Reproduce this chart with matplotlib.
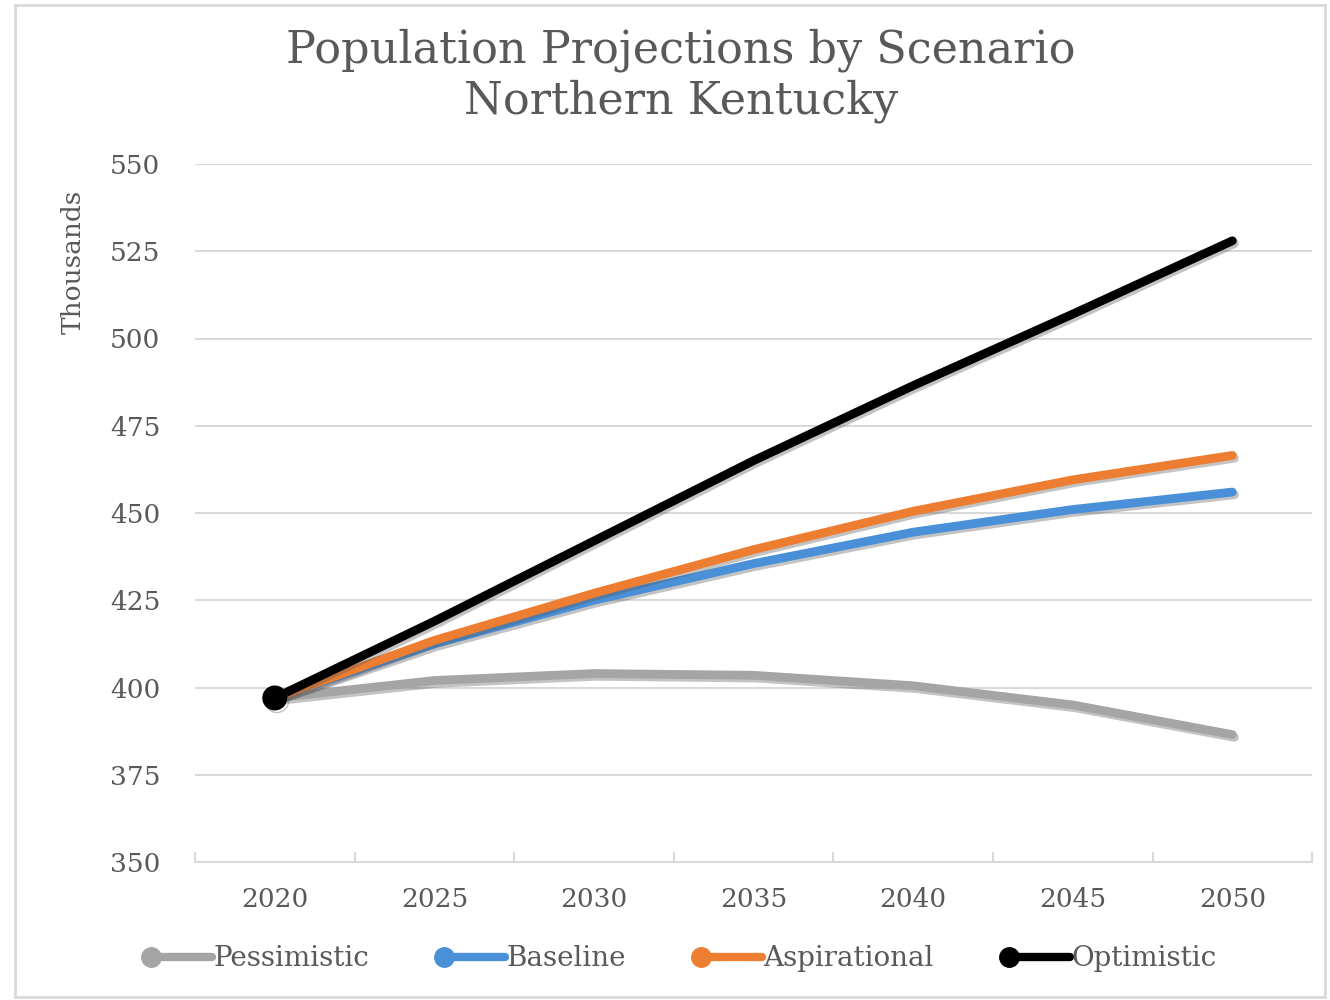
import numpy as np
import matplotlib
matplotlib.use('Agg')
from matplotlib import pyplot as plt
from matplotlib.lines import Line2D
from matplotlib.patches import Rectangle
from matplotlib.legend_handler import HandlerBase
import matplotlib.patheffects as pe

years = ['2020', '2025', '2030', '2035', '2040', '2045', '2050']
pessimistic = [397, 402, 404, 403.5, 400.5, 395, 386.5]
baseline = [397, 412.5, 425, 435.5, 444.5, 451, 456]
aspirational = [397, 413.5, 427, 439.5, 450.5, 459.5, 466.5]
optimistic = [397, 419, 442, 465, 486.5, 507, 528]

series = [('Pessimistic', pessimistic, '#a5a5a5'),
          ('Baseline', baseline, '#4a90d9'),
          ('Aspirational', aspirational, '#ed7d31'),
          ('Optimistic', optimistic, '#000000')]

txt = '#595959'
grid = '#d9d9d9'
plt.rcParams['font.family'] = ['DejaVu Serif']


# legend key: thick line with a dot on its left end (Excel style)
class HandlerDotLine(HandlerBase):
    def create_artists(self, legend, orig, xd, yd, width, height, fontsize, trans):
        y = height / 2 - yd
        col = orig.get_color()
        line = Line2D([-xd + 4, -xd + width], [y, y], color=col, lw=6,
                      solid_capstyle='round', transform=trans)
        dot = Line2D([-xd + 4], [y], color=col, marker='o', markersize=14,
                     linestyle='none', transform=trans)
        return [line, dot]


fig = plt.figure(figsize=(13.3, 10), dpi=100)
fig.patches.append(Rectangle((0.011, 0.003), 0.985, 0.992, transform=fig.transFigure,
                             fill=False, edgecolor=grid, linewidth=2))
ax = fig.add_axes([0.1466, 0.138, 0.8400, 0.698])

x = np.arange(len(years))
shadow = [pe.SimpleLineShadow(offset=(1.5, -2), shadow_color='#555555', alpha=0.35), pe.Normal()]
handles = []
for name, vals, col in series:
    ax.plot(x, vals, color=col, lw=6.3, solid_capstyle='round', path_effects=shadow, zorder=3)
    handles.append(Line2D([], [], color=col, label=name))

# start point marker
ax.plot(x[0], optimistic[0], 'o', color='black', markersize=17, zorder=5, path_effects=shadow)

ax.set_xlim(-0.5, len(years) - 0.5)
ax.set_ylim(350, 550)
ax.set_yticks(np.arange(350, 551, 25))
ax.set_xticks(x)
ax.set_xticklabels(years)
ax.set_xticks(np.arange(-0.5, len(years), 1), minor=True)
ax.tick_params(axis='x', which='major', length=0, pad=18, labelsize=19, colors=txt)
ax.tick_params(axis='x', which='minor', length=7, width=1.5, color=grid, direction='in')
ax.tick_params(axis='y', length=0, pad=25, labelsize=19, colors=txt)
ax.grid(axis='y', color=grid, lw=1.5)
ax.set_axisbelow(True)
for s in ['top', 'right', 'left']:
    ax.spines[s].set_visible(False)
ax.spines['bottom'].set_color(grid)
ax.spines['bottom'].set_linewidth(1.5)
ax.set_ylabel('Thousands', color=txt, fontsize=19)
ax.yaxis.set_label_coords(-0.098, 0.86)

fig.text(0.512, 0.950, 'Population Projections by Scenario', ha='center', va='center',
         fontsize=32, color=txt)
fig.text(0.512, 0.899, 'Northern Kentucky', ha='center', va='center',
         fontsize=32, color=txt)

leg = fig.legend(handles=handles, loc='center', bbox_to_anchor=(0.512, 0.041), ncol=4,
                 frameon=False, fontsize=20, handlelength=2.4, handletextpad=0.05,
                 columnspacing=2.5, handler_map={Line2D: HandlerDotLine()})
for t in leg.get_texts():
    t.set_color(txt)

fig.savefig('out.png', dpi=100)
